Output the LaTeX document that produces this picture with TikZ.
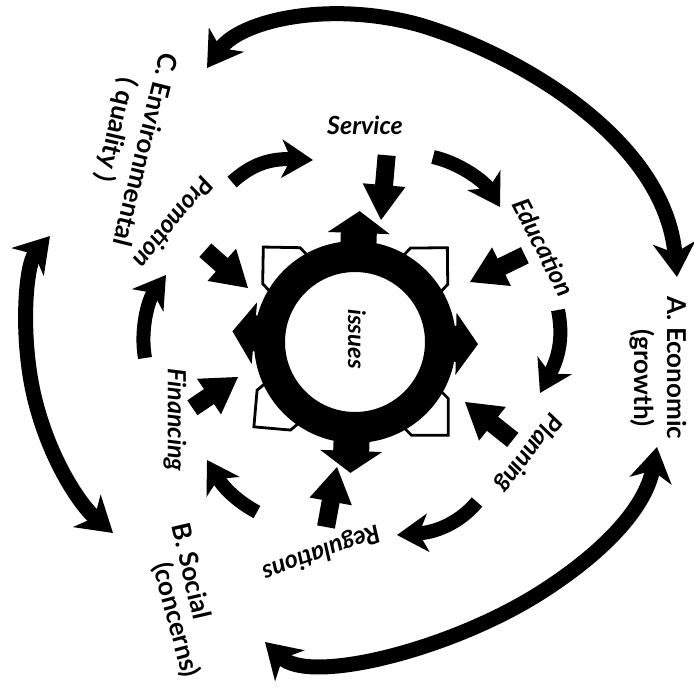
\documentclass[tikz,border=0pt]{standalone}
\usepackage{fontspec}
\setmainfont{Lato}
\usetikzlibrary{arrows.meta}
\newcommand\inarrow[3]{\fill[shift={(#1)}, rotate=#2] (0,0) -- (-35,-21.5) -- (-35,-9) -- (-#3,-9) -- (-#3,9) -- (-35,9) -- (-35,21.5) -- cycle;}
\begin{document}
\begin{tikzpicture}[x=1pt,y=-1pt,
  lab/.style={font=\fontsize{26}{30}\selectfont\bfseries, inner sep=0pt},
  ilab/.style={font=\fontsize{25}{30}\selectfont\bfseries\itshape, inner sep=0pt},
  clab/.style={font=\fontsize{24}{28}\selectfont\bfseries\itshape, inner sep=0pt},
  bigarc/.style={line width=15pt, {Stealth[length=34pt,width=42pt,inset=10pt]}-{Stealth[length=34pt,width=42pt,inset=10pt]}},
  cyc/.style={line width=14pt, -{Stealth[length=31pt,width=38pt,inset=9pt]}},
  hollow/.style={line width=2.8pt, draw=black, fill=white, line join=miter}
]
\useasboundingbox (0,0) rectangle (694,688);
\fill[white] (0,0) rectangle (694,688);

% outer double-headed arcs
\draw[bigarc] (207,68) .. controls (240,20) and (330,0) .. (420,25) .. controls (520,55) and (665,140) .. (677,277);
\draw[bigarc] (50,236) .. controls (25,265) and (20,340) .. (35,400) .. controls (50,460) and (80,505) .. (113,533);
\draw[bigarc] (265,642) .. controls (310,685) and (450,650) .. (540,593) .. controls (600,555) and (645,510) .. (657,447);

% cycle arrows
\draw[cyc] (232,182) .. controls (248,168) and (265,158) .. (313,160);
\draw[cyc] (433,157) .. controls (460,163) and (485,182) .. (500,207);
\draw[cyc] (558,310) .. controls (563,335) and (560,355) .. (540,393);
\draw[cyc] (477,502) .. controls (462,520) and (440,532) .. (397,535);
\draw[cyc] (257,512) .. controls (240,503) and (225,490) .. (207,460);
\draw[cyc] (145,358) .. controls (140,330) and (148,300) .. (166,275);

% inward block arrows
\inarrow{381,220}{-95}{65}
\inarrow{470,282}{-154}{61}
\inarrow{465,402}{141.6}{61}
\inarrow{337,467}{79.6}{61}
\inarrow{238,377}{34}{55}
\inarrow{248,288}{-41.5}{57}

% ring with arrows
\begin{scope}[shift={(355,342)}]
  \foreach \a in {45.6,134,220,-45} {
    \draw[hollow, rotate=\a] (88,26) -- (106,26) -- (132,0) -- (106,-26) -- (88,-26);
  }
  \foreach \a/\r in {88/131, -1/123, 268/131, 175/123} {
    \fill[rotate=\a] (95,-18) -- (\r-22,-18) -- (\r-22,-31) -- (\r,0) -- (\r-22,31) -- (\r-22,18) -- (95,18) -- cycle;
  }
  \fill[even odd rule] (0,0) circle[radius=101] (0,0) circle[radius=70];
\end{scope}

% inner labels
\node[ilab] (service) at (365,125) {Service};
\node[ilab, rotate=-63] (education) at (544,247) {Education};
\node[ilab, rotate=-127] (planning) at (528,453) {Planning};
\node[ilab, rotate=-160] (regulations) at (321,552) {Regulations};
\node[ilab, rotate=-90] (financing) at (175,420) {Financing};
\node[ilab, rotate=-129] (promotion) at (174,223) {Promotion};
\node[clab, rotate=-90] (issues) at (357,339) {issues};

% outer labels
\node[lab, rotate=-90] (econ) at (677,368) {A. Economic};
\node[lab, rotate=-90] (growth) at (642,378) {(growth)};
\node[lab, rotate=-104] (env) at (146,150) {C. Environmental};
\node[lab, rotate=-103] (quality) at (116,130) {( quality )};
\node[lab, rotate=-77] (social) at (192,571) {B. Social};
\node[lab, rotate=-75] (concerns) at (176,620) {(concerns)};
\end{tikzpicture}
\end{document}
